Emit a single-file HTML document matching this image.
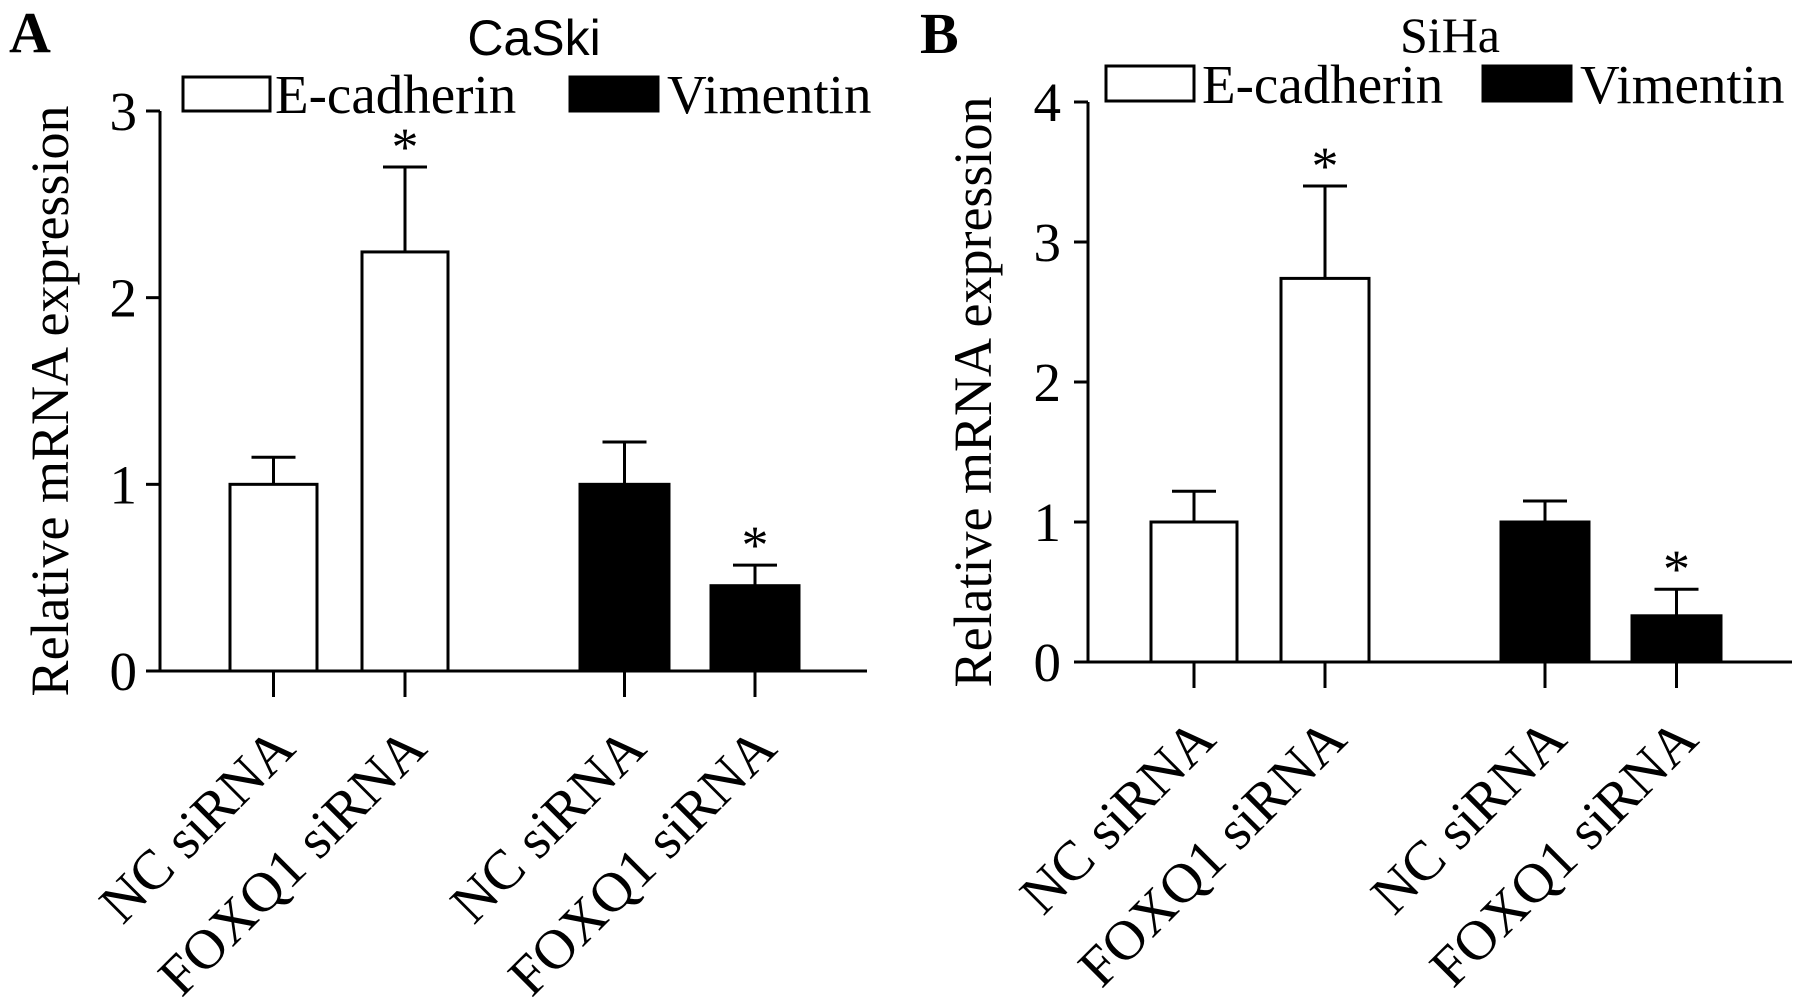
<!DOCTYPE html>
<html><head><meta charset="utf-8"><style>
html,body{margin:0;padding:0;background:#fff;}
svg{display:block;}
text{font-family:"Liberation Serif",serif;fill:#000;}
</style></head><body>
<svg id="chart" width="1795" height="1007" viewBox="0 0 1795 1007"></svg>
<script>
const categories = ["NC siRNA","FOXQ1 siRNA","NC siRNA","FOXQ1 siRNA"];
const seriesNames = ["E-cadherin","Vimentin"];
const caskiValues = [1.0, 2.245, 1.0, 0.457];
const caskiErrors = [1.145, 2.70, 1.227, 0.567];
const caskiSig = [false, true, false, true];
const caskiTicks = [0,1,2,3];
const sihaValues = [1.0, 2.74, 1.0, 0.33];
const sihaErrors = [1.22, 3.40, 1.15, 0.52];
const sihaSig = [false, true, false, true];
const sihaTicks = [0,1,2,3,4];

const NS="http://www.w3.org/2000/svg";
const svg=document.getElementById('chart');
function el(tag,attrs,parent,txt){const e=document.createElementNS(NS,tag);for(const k in attrs)e.setAttribute(k,attrs[k]);if(txt!==undefined)e.textContent=txt;(parent||svg).appendChild(e);return e;}

const panels=[
 {letter:"A",lx:9,ly:52,title:"CaSki",tx:534,ty:55,titleFont:'"Liberation Sans",sans-serif',
  ax:160,axEnd:867,y0:671,yTop:111,max:3,ticks:caskiTicks,vals:caskiValues,errs:caskiErrors,sig:caskiSig,
  bars:[[230,317],[362,448],[580,669],[711,799]],ylabX:50,tickLabR:137,
  leg:[[183,77,87,34,275],[570,77,88,34,667]]},
 {letter:"B",lx:920,ly:53,title:"SiHa",tx:1450,ty:52,titleFont:'"Liberation Serif",serif',
  ax:1088,axEnd:1792,y0:662,yTop:102,max:4,ticks:sihaTicks,vals:sihaValues,errs:sihaErrors,sig:sihaSig,
  bars:[[1151,1237],[1281,1369],[1501,1589],[1632,1721]],ylabX:973,tickLabR:1061,
  leg:[[1106,66,88,35,1202],[1483,66,88,35,1580]]}
];

panels.forEach((p,pi)=>{
  const g=el('g',{});
  
  
  const yS=v=>p.y0-(v/p.max)*(p.y0-p.yTop);
  let t=el('text',{x:p.lx,y:p.ly,'font-size':58,'font-weight':'bold'},g,p.letter);
  
  
  t=el('text',{x:p.tx,y:p.ty,'font-size':50,'text-anchor':'middle','style':'font-family:'+p.titleFont},g,p.title);
  
  
  p.leg.forEach((L,i)=>{
    const r=el('rect',{x:L[0],y:L[1],width:L[2],height:L[3],fill:i?'#000':'#fff',stroke:'#000','stroke-width':3},g);
    
    
    const lt=el('text',{x:L[4],y:L[1]+L[3]+2,'font-size':55},g,seriesNames[i]);
    
    
  });
  const ya=el('line',{x1:p.ax,y1:p.yTop,x2:p.ax,y2:p.y0,stroke:'#000','stroke-width':3},g);
  
  
  p.ticks.forEach(v=>{
    const y=yS(v);
    const tl=el('line',{x1:p.ax-14,y1:y,x2:p.ax,y2:y,stroke:'#000','stroke-width':3},g);
    
    
    const tt=el('text',{x:p.tickLabR,y:y+19,'font-size':55,'text-anchor':'end'},g,String(v));
    
    
  });
  const yl=el('text',{x:0,y:0,'font-size':54,'text-anchor':'middle',transform:`translate(${p.ylabX+18},${(p.yTop+p.y0)/2+10}) rotate(-90)`},g,'Relative mRNA expression');
  
  
  p.vals.forEach((v,i)=>{
    const [x1,x2]=p.bars[i];const cx=(x1+x2)/2;
    const yv=yS(v),ye=yS(p.errs[i]);
    const el1=el('line',{x1:cx,y1:yv,x2:cx,y2:ye,stroke:'#000','stroke-width':3},g);
    
    
    const cap=el('line',{x1:cx-22,y1:ye,x2:cx+22,y2:ye,stroke:'#000','stroke-width':3},g);
    
    
    const b=el('rect',{x:x1,y:yv,width:x2-x1,height:p.y0-yv,fill:i>=2?'#000':'#fff',stroke:'#000','stroke-width':3},g);
    
    
    if(p.sig[i]){
      const s=el('text',{x:cx,y:ye-2,'font-size':54,'text-anchor':'middle'},g,'*');
      
      
    }
    const tk=el('line',{x1:cx,y1:p.y0,x2:cx,y2:p.y0+26,stroke:'#000','stroke-width':3},g);
    
    
    const xl=el('text',{x:0,y:0,'font-size':56,'text-anchor':'end',transform:`translate(${cx+24},${p.y0+80}) rotate(-45)`},g,categories[i]);
    
    
  });
  const xa=el('line',{x1:p.ax,y1:p.y0,x2:p.axEnd,y2:p.y0,stroke:'#000','stroke-width':3},g);
  
  
});
</script>
</body></html>
